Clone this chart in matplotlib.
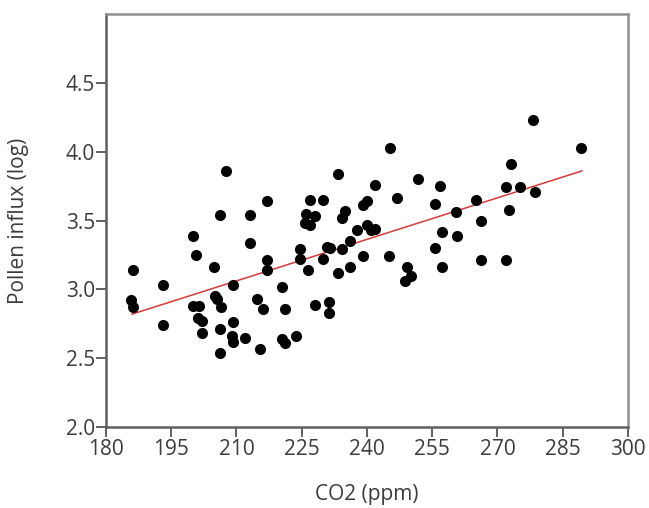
import numpy as np
import matplotlib.pyplot as plt

# CO2 (ppm) vs log pollen influx
co2 = [186.1, 185.8, 186.1, 193.0, 193.0, 199.9, 200.6, 199.9, 201.4, 201.1,
       202.0, 202.0, 204.8, 205.0, 205.5, 206.1, 206.5, 206.3, 206.3, 207.5,
       209.3, 209.3, 209.3, 209.0, 212.0, 213.0, 213.2, 214.7, 215.3, 216.1,
       217.1, 217.1, 217.1, 220.4, 220.4, 221.1, 221.1, 223.7, 224.7, 224.7,
       226.5, 227.0, 226.0, 225.7, 227.0, 228.0, 229.8, 228.0, 229.8, 230.7,
       231.2, 231.2, 233.4, 233.4, 234.3, 235.0, 234.3, 236.0, 236.1, 237.8,
       239.1, 240.1, 239.1, 239.9, 240.9, 241.9, 241.9, 245.2, 245.0, 246.8,
       249.3, 248.7, 250.2, 251.7, 255.7, 255.7, 256.8, 257.3, 257.3, 260.4,
       260.6, 265.1, 266.3, 266.3, 271.9, 271.9, 272.7, 273.2, 275.2, 278.2,
       278.6, 289.1, 231.5]
pollen = [3.14, 2.92, 2.87, 3.03, 2.74, 3.39, 3.25, 2.88, 2.88, 2.79,
          2.77, 2.68, 3.16, 2.95, 2.93, 3.54, 2.87, 2.71, 2.54, 3.86,
          3.03, 2.76, 2.62, 2.66, 2.65, 3.54, 3.34, 2.93, 2.57, 2.86,
          3.64, 3.21, 3.14, 3.02, 2.64, 2.61, 2.86, 2.66, 3.29, 3.22,
          3.14, 3.65, 3.55, 3.48, 3.47, 3.53, 3.65, 2.89, 3.22, 3.31,
          2.91, 2.83, 3.84, 3.12, 3.52, 3.57, 3.29, 3.35, 3.16, 3.43,
          3.61, 3.64, 3.24, 3.47, 3.43, 3.44, 3.76, 4.03, 3.24, 3.66,
          3.16, 3.06, 3.10, 3.80, 3.62, 3.30, 3.75, 3.42, 3.16, 3.56,
          3.39, 3.65, 3.50, 3.21, 3.74, 3.21, 3.58, 3.91, 3.74, 4.23,
          3.71, 4.03, 3.30]

# fitted line endpoints as drawn in the reference
fit_x = [186.0, 289.4]
fit_y = [2.82, 3.86]

xticks = [180, 195, 210, 225, 240, 255, 270, 285, 300]
yticks = [2.0, 2.5, 3.0, 3.5, 4.0, 4.5]

plt.rcParams['font.family'] = ['Open Sans', 'DejaVu Sans']
txt_color = '#3c3c3c'

fig = plt.figure(figsize=(6.49, 5.08), dpi=100)
ax = fig.add_axes([0.1633, 0.1594, 0.8043, 0.813])

ax.scatter(co2, pollen, s=64, color='black', zorder=3, linewidths=0)
ax.plot(fit_x, fit_y, color='#d33a3a', lw=1.1, zorder=2)

ax.set_xlim(180, 300)
ax.set_ylim(2.0, 5.0)
ax.set_xticks(xticks)
ax.set_yticks(yticks)
ax.set_yticklabels([f'{v:.1f}' for v in yticks])

for side in ['left', 'bottom']:
    ax.spines[side].set_color('#606060')
    ax.spines[side].set_linewidth(1.8)
for side in ['top', 'right']:
    ax.spines[side].set_color('#909090')
    ax.spines[side].set_linewidth(1.8)

ax.tick_params(direction='out', length=7.5, width=1.4, color='#606060',
               labelsize=15, labelcolor=txt_color)
ax.tick_params(axis='y', pad=0.5)
ax.tick_params(axis='x', pad=1)

fig.text(0.5655, 0.026, 'CO2 (ppm)', fontsize=15, color=txt_color,
         ha='center', va='center')
fig.text(0.028, 0.565, 'Pollen influx (log)', fontsize=15, color=txt_color,
         ha='center', va='center', rotation=90)

fig.savefig('out.png', dpi=100)
